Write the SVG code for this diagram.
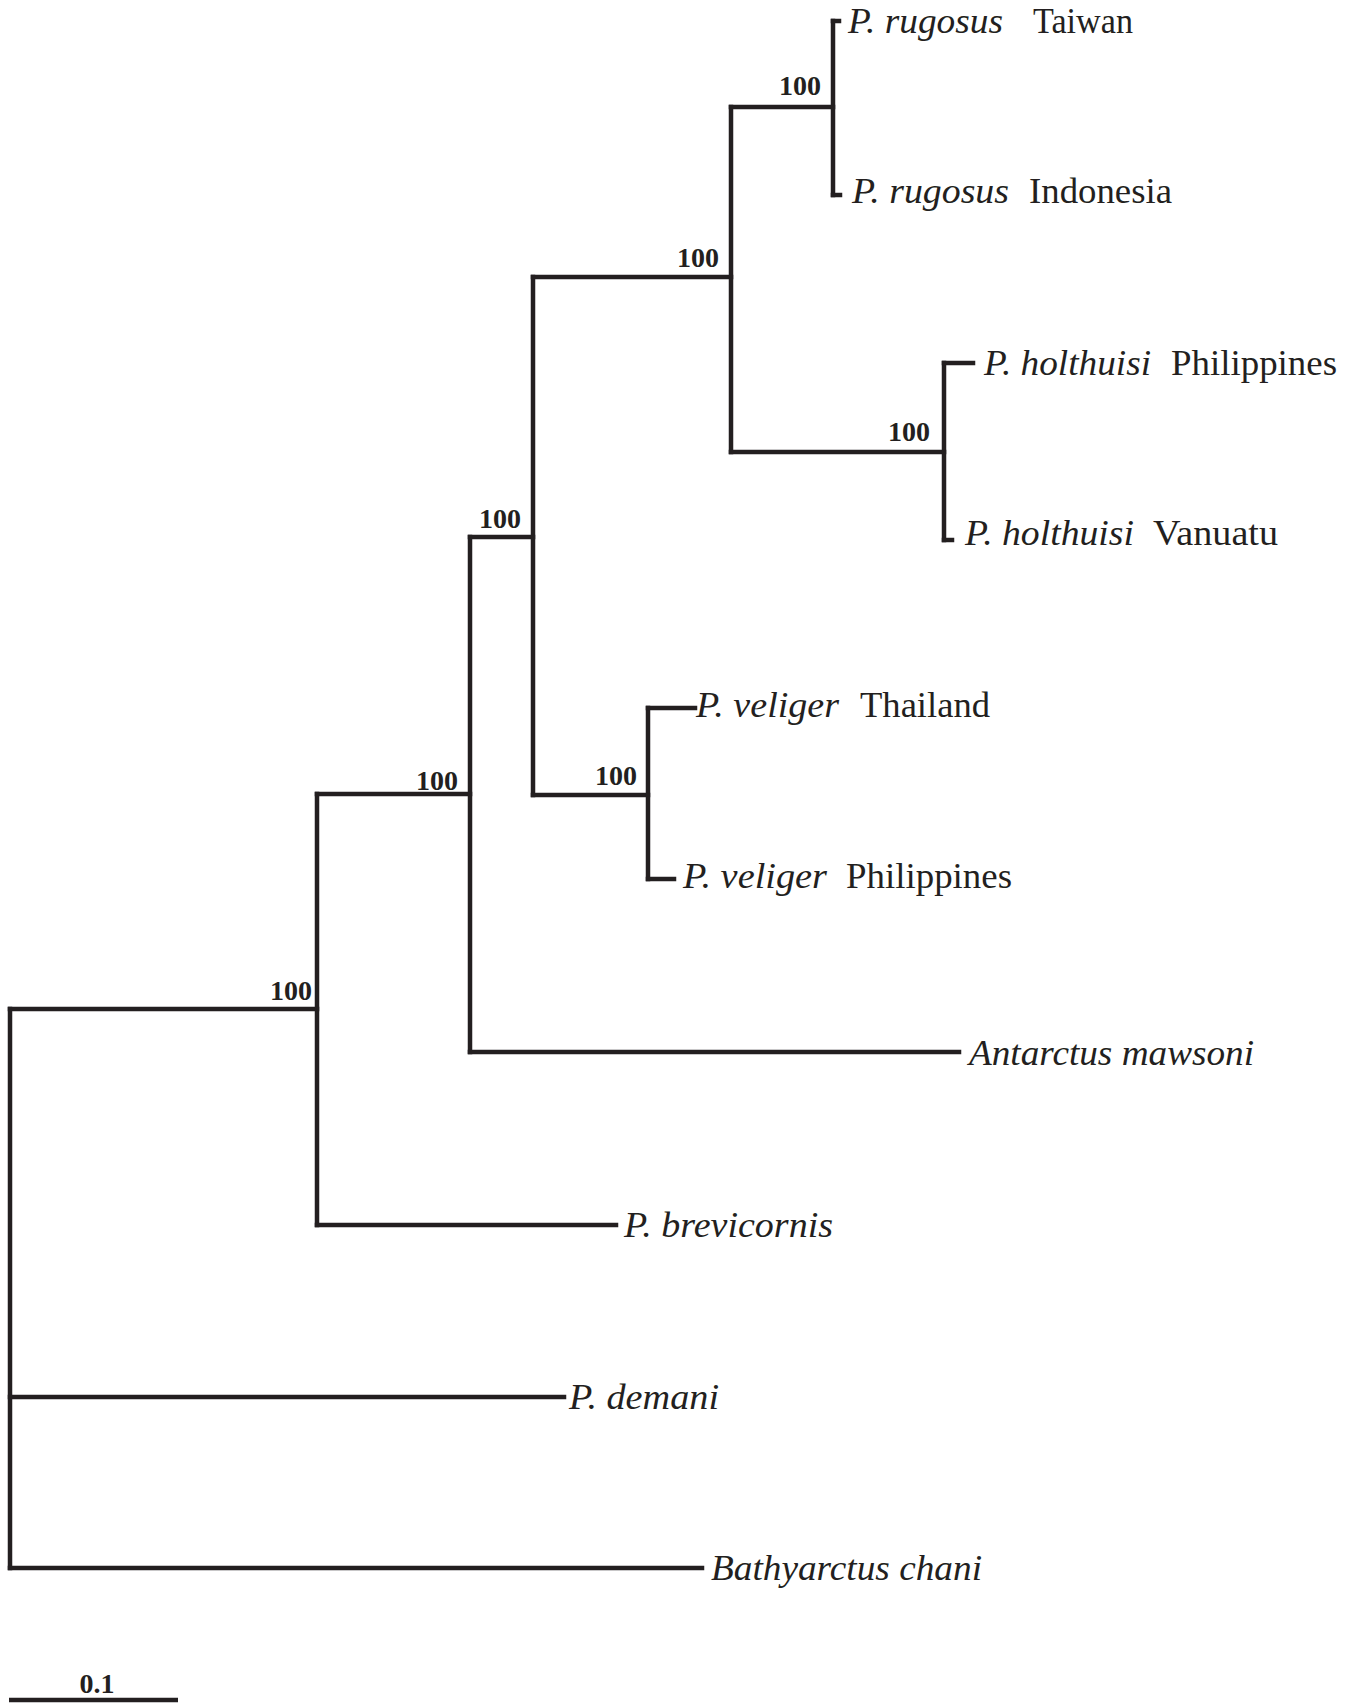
<svg xmlns="http://www.w3.org/2000/svg" width="1354" height="1703" viewBox="0 0 1354 1703">
<style>
.br{fill:none;stroke:#231f20;stroke-width:4.5;stroke-linecap:square;stroke-linejoin:miter}
.tx{font-family:"Liberation Serif","Times New Roman",serif;font-size:35px;fill:#231f20}
.it{font-style:italic}
.bs{font-family:"Liberation Serif","Times New Roman",serif;font-size:28px;font-weight:bold;fill:#231f20;text-anchor:end}
</style>
<rect width="1354" height="1703" fill="#ffffff"/>
<g id="connectors">
<path class="br" d="M10,1009 V1568"/>
<path class="br" d="M10,1009 H317"/>
<path class="br" d="M10,1397 H564"/>
<path class="br" d="M10,1568 H702"/>
<path class="br" d="M317,794 V1225"/>
<path class="br" d="M317,794 H470"/>
<path class="br" d="M317,1225 H616"/>
<path class="br" d="M470,537 V1052"/>
<path class="br" d="M470,537 H533"/>
<path class="br" d="M470,1052 H959"/>
<path class="br" d="M533,277 V795"/>
<path class="br" d="M533,277 H731"/>
<path class="br" d="M533,795 H648"/>
<path class="br" d="M731,107 V452"/>
<path class="br" d="M731,107 H833"/>
<path class="br" d="M731,452 H944"/>
<path class="br" d="M833,21 V195"/>
<path class="br" d="M833,21 H839"/>
<path class="br" d="M833,195 H840"/>
<path class="br" d="M944,363 V540"/>
<path class="br" d="M944,363 H973"/>
<path class="br" d="M944,540 H952"/>
<path class="br" d="M648,708 V879"/>
<path class="br" d="M648,708 H695"/>
<path class="br" d="M648,879 H674"/>
</g>
<g id="node-rugosus-clade"><text class="bs" x="821" y="95">100</text></g>
<g id="node-rugosus-holthuisi"><text class="bs" x="719" y="267">100</text></g>
<g id="node-holthuisi-clade"><text class="bs" x="930" y="441">100</text></g>
<g id="node-inner"><text class="bs" x="521" y="528">100</text></g>
<g id="node-veliger-clade"><text class="bs" x="637" y="785">100</text></g>
<g id="node-antarctus"><text class="bs" x="458" y="790">100</text></g>
<g id="node-brevicornis"><text class="bs" x="312" y="1000">100</text></g>
<g id="leaf-rugosus-taiwan"><text class="tx" y="33"><tspan class="it" x="848" textLength="155" lengthAdjust="spacingAndGlyphs">P. rugosus</tspan><tspan x="1033" textLength="100" lengthAdjust="spacingAndGlyphs">Taiwan</tspan></text></g>
<g id="leaf-rugosus-indonesia"><text class="tx" y="203"><tspan class="it" x="852" textLength="157" lengthAdjust="spacingAndGlyphs">P. rugosus</tspan><tspan x="1029" textLength="143" lengthAdjust="spacingAndGlyphs">Indonesia</tspan></text></g>
<g id="leaf-holthuisi-philippines"><text class="tx" y="375"><tspan class="it" x="984" textLength="167" lengthAdjust="spacingAndGlyphs">P. holthuisi</tspan><tspan x="1171" textLength="166" lengthAdjust="spacingAndGlyphs">Philippines</tspan></text></g>
<g id="leaf-holthuisi-vanuatu"><text class="tx" y="545"><tspan class="it" x="965" textLength="169" lengthAdjust="spacingAndGlyphs">P. holthuisi</tspan><tspan x="1153" textLength="125" lengthAdjust="spacingAndGlyphs">Vanuatu</tspan></text></g>
<g id="leaf-veliger-thailand"><text class="tx" y="717"><tspan class="it" x="696" textLength="143" lengthAdjust="spacingAndGlyphs">P. veliger</tspan><tspan x="860" textLength="130" lengthAdjust="spacingAndGlyphs">Thailand</tspan></text></g>
<g id="leaf-veliger-philippines"><text class="tx" y="888"><tspan class="it" x="683" textLength="144" lengthAdjust="spacingAndGlyphs">P. veliger</tspan><tspan x="846" textLength="166" lengthAdjust="spacingAndGlyphs">Philippines</tspan></text></g>
<g id="leaf-antarctus"><text class="tx it" x="969" y="1065" textLength="285" lengthAdjust="spacingAndGlyphs">Antarctus mawsoni</text></g>
<g id="leaf-brevicornis"><text class="tx it" x="624" y="1237" textLength="209" lengthAdjust="spacingAndGlyphs">P. brevicornis</text></g>
<g id="leaf-demani"><text class="tx it" x="569" y="1409" textLength="150" lengthAdjust="spacingAndGlyphs">P. demani</text></g>
<g id="leaf-bathyarctus"><text class="tx it" x="711" y="1580" textLength="271" lengthAdjust="spacingAndGlyphs">Bathyarctus chani</text></g>
<g id="scale-bar">
<text class="bs" x="97" y="1693" style="text-anchor:middle">0.1</text>
<path class="br" d="M9,1700 H178" style="stroke-linecap:butt"/>
</g>
</svg>
